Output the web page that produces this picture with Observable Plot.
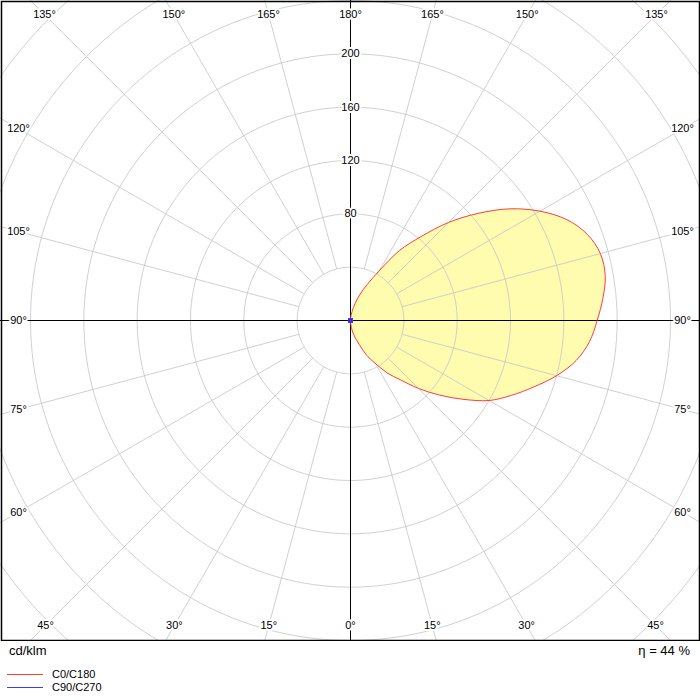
<!DOCTYPE html>
<html>
<head>
<meta charset="utf-8">
<script src="https://cdn.jsdelivr.net/npm/d3@7"></script>
<script src="https://cdn.jsdelivr.net/npm/@observablehq/plot@0.6"></script>
<style>
  body { margin: 0; background: #fff; }
  #wrap { width: 700px; height: 700px; position: relative; }
  svg { display: block; }
</style>
</head>
<body>
<div id="wrap"></div>
<script>
// ---- data (cd/klm) ----
const gammas = [0,5,10,15,20,25,30,35,40,45,50,55,60,65,70,75,80,85,90,95,100,105,110,115,120,125,130,135,140,145,150,155,160,165,170,175,180];
const c0c180 = [0,3,8,13,19,29,37,48,58,72,87,103,120,133,146,160,172,180,185,190,194,194,189,179,164,146,125,104,82,64,43,30,21,13,7,3,0];
const c90c270 = [0,0,0,0,0,0,0,0,0,0,0,0,0,0,0,0,0,0,0,0,0,0,0,0,0,0,0,0,0,0,0,0,0,0,0,0,0];
const rings = [40,80,120,160,200,240,280,320,360];
const ringLabels = [80,120,160,200];
const spokeAngles = [15,30,45,60,75,105,120,135,150,165,195,210,225,240,255,285,300,315,330,345];
const angleTicks = [0,15,30,45,60,75,90,105,120,135,150,165,180,195,210,225,240,255,270,285,300,315,330,345];
const unitLabel = "cd/klm";
const etaLabel = "η = 44 %";
const seriesNames = ["C0/C180", "C90/C270"];
const seriesColors = ["#ff3b3b", "#3b3bff"];

// ---- helpers ----
const rad = d => d * Math.PI / 180;
const px = (g, I) => I * Math.sin(rad(g));
const py = (g, I) => -I * Math.cos(rad(g));

const curve0 = gammas.map((g, i) => ({x: px(g, c0c180[i]), y: py(g, c0c180[i])}));
const curve90 = gammas.map((g, i) => ({x: px(g, c90c270[i]), y: py(g, c90c270[i])}));

const ringPts = [];
for (const r of rings) for (let a = 0; a <= 360; a += 2) ringPts.push({r, x: px(a, r), y: py(a, r)});

// label box (data units) for the angle labels
const boxX = 249, boxTop = 229.5, boxBottom = 228.75;
const tickPos = angleTicks.map(a => {
  const sx = Math.sin(rad(a)), sy = -Math.cos(rad(a));
  const ty = sy >= 0 ? boxTop : boxBottom;
  const t = Math.min(Math.abs(sx) > 1e-9 ? boxX / Math.abs(sx) : Infinity,
                     Math.abs(sy) > 1e-9 ? ty / Math.abs(sy) : Infinity);
  return {x: sx * t, y: sy * t, label: (a <= 180 ? a : 360 - a) + "°"};
});

const W = 700, H = 641;
const k = 0.75; // cd/klm per pixel
const font = "Liberation Sans, Arial, sans-serif";

const chart = Plot.plot({
  width: W, height: H,
  margin: 0,
  x: {type: "linear", domain: [-350 * k, 350 * k], axis: null},
  y: {type: "linear", domain: [-(H - 320) * k, 320 * k], axis: null},
  style: {fontFamily: font, fontSize: "11px", background: "#fff"},
  marks: [
    Plot.line(curve0, {x: "x", y: "y", fill: "#fffcb0", stroke: "none", curve: "catmull-rom"}),
    Plot.line(ringPts, {x: "x", y: "y", z: "r", stroke: "#c8c8c8", strokeWidth: 1, strokeOpacity: 0.85, clip: true}),
    Plot.link(spokeAngles, {
      x1: a => px(a, 40), y1: a => py(a, 40),
      x2: a => px(a, 700), y2: a => py(a, 700),
      stroke: "#c8c8c8", strokeWidth: 1, strokeOpacity: 0.85, clip: true
    }),
    Plot.ruleX([0], {stroke: "#000", strokeWidth: 1}),
    Plot.ruleY([0], {stroke: "#000", strokeWidth: 1}),
    Plot.line(curve0, {x: "x", y: "y", stroke: seriesColors[0], strokeWidth: 1, curve: "catmull-rom"}),
    Plot.line(curve90, {x: "x", y: "y", stroke: seriesColors[1], strokeWidth: 1}),
    Plot.dot(curve90, {x: "x", y: "y", symbol: "square", r: 2.2, stroke: seriesColors[1], fill: "none", strokeWidth: 1}),
    Plot.text(ringLabels, {x: 0, y: d => d, text: d => String(d), fill: "#000", stroke: "#fff", strokeWidth: 4, fontSize: 11}),
    Plot.text(tickPos, {x: "x", y: "y", text: "label", fill: "#000", stroke: "#fff", strokeWidth: 4, fontSize: 11}),
    Plot.frame({stroke: "#000", strokeWidth: 1.5, inset: 1})
  ]
});

const wrap = document.getElementById("wrap");
wrap.appendChild(chart);

// footer: unit, efficiency, legend
const ns = "http://www.w3.org/2000/svg";
const foot = document.createElementNS(ns, "svg");
foot.setAttribute("width", W);
foot.setAttribute("height", 700 - H);
foot.style.fontFamily = font;
const base = H;
function txt(x, y, s, size, anchor) {
  const t = document.createElementNS(ns, "text");
  t.setAttribute("x", x); t.setAttribute("y", y - base);
  t.setAttribute("font-size", size);
  if (anchor) t.setAttribute("text-anchor", anchor);
  t.setAttribute("fill", "#000");
  t.textContent = s;
  foot.appendChild(t);
}
function ln(x1, x2, y, c) {
  const l = document.createElementNS(ns, "line");
  l.setAttribute("x1", x1); l.setAttribute("x2", x2);
  l.setAttribute("y1", y - base + 0.5); l.setAttribute("y2", y - base + 0.5);
  l.setAttribute("stroke", c); l.setAttribute("stroke-width", 1);
  foot.appendChild(l);
}
txt(9, 655, unitLabel, 13);
txt(690, 655, etaLabel, 13, "end");
seriesNames.forEach((n, i) => {
  ln(7, 43, 674 + i * 13, seriesColors[i]);
  txt(52, 678 + i * 13, n, 11);
});
wrap.appendChild(foot);
</script>
</body>
</html>
